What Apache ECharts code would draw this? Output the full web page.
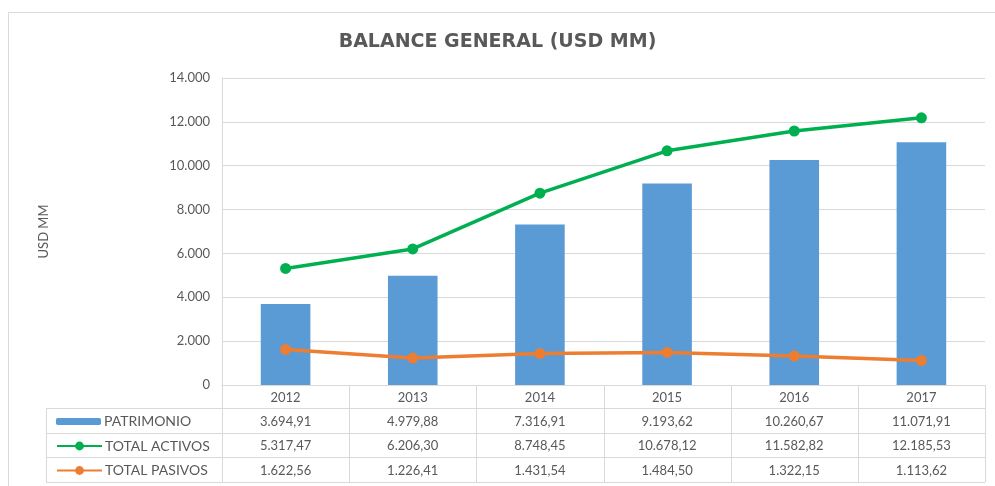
<!DOCTYPE html>
<html>
<head>
<meta charset="utf-8">
<script src="https://cdn.jsdelivr.net/npm/echarts/dist/echarts.min.js"></script>
<style>
html, body { margin: 0; padding: 0; background: #fff; }
#balanceChart { width: 995px; height: 486px; }
</style>
</head>
<body>
<div id="balanceChart"></div>
<script>
// datos (USD MM)
var years = ['2012', '2013', '2014', '2015', '2016', '2017']
var patrimonio = [3694.91, 4979.88, 7316.91, 9193.62, 10260.67, 11071.91]
var totalActivos = [5317.47, 6206.30, 8748.45, 10678.12, 11582.82, 12185.53]
var totalPasivos = [1622.56, 1226.41, 1431.54, 1484.50, 1322.15, 1113.62]
var seriesNames = ['PATRIMONIO', 'TOTAL ACTIVOS', 'TOTAL PASIVOS']

var textColor = '#595959'
var lineColor = '#D9D9D9'
var font = 'Lato'

// layout of plot + data table
var gridLeft = 222
var gridRight = 985
var gridTop = 78
var axisY = 385
var tableLeft = 46
var rowLines = [408, 433, 457, 482]

function fmtNum (v, dec) {
  var parts = v.toFixed(dec).split('.')
  var intPart = parts[0].replace(/\B(?=(\d{3})+(?!\d))/g, '.')
  return parts.length > 1 ? intPart + ',' + parts[1] : intPart
}

function buildTable () {
  var g = []
  var colW = (gridRight - gridLeft) / years.length
  var rows = [patrimonio, totalActivos, totalPasivos]
  // horizontal lines
  rowLines.forEach(function (y) {
    g.push({ type: 'line', silent: true, shape: { x1: tableLeft, y1: y + 0.5, x2: gridRight, y2: y + 0.5 }, style: { stroke: lineColor, lineWidth: 1 } })
  })
  // vertical lines
  g.push({ type: 'line', silent: true, shape: { x1: tableLeft + 0.5, y1: rowLines[0], x2: tableLeft + 0.5, y2: rowLines[3] }, style: { stroke: lineColor, lineWidth: 1 } })
  for (var k = 0; k <= years.length; k++) {
    var x = Math.round(gridLeft + k * colW) + 0.5
    g.push({ type: 'line', silent: true, shape: { x1: x, y1: axisY, x2: x, y2: rowLines[3] }, style: { stroke: lineColor, lineWidth: 1 } })
  }
  // values
  rows.forEach(function (data, r) {
    var cy = (rowLines[r] + rowLines[r + 1]) / 2 + 1
    data.forEach(function (v, i) {
      g.push({
        type: 'text',
        silent: true,
        x: gridLeft + (i + 0.5) * colW,
        y: cy,
        style: { text: fmtNum(v, 2), fill: textColor, font: '13px ' + font, align: 'center', verticalAlign: 'middle' }
      })
    })
  })
  // outer chart border
  g.push({ type: 'rect', silent: true, shape: { x: 8.5, y: 12.5, width: 1000, height: 500 }, style: { fill: 'none', stroke: lineColor, lineWidth: 1 } })
  return g
}

// one legend per table row, so each sits in its own row
function buildLegends () {
  return seriesNames.map(function (name, r) {
    var cy = (rowLines[r] + rowLines[r + 1]) / 2
    var h = r === 0 ? 7 : 11
    return {
      left: 51,
      top: cy - 12,
      height: 16,
      itemWidth: 45,
      itemHeight: h,
      data: [name],
      selectedMode: false,
      textStyle: { color: textColor, fontFamily: font, fontSize: 14, lineHeight: 16, padding: [0, 0, 0, -2] }
    }
  })
}

var option = {
  animation: false,
  backgroundColor: '#fff',
  color: ['#5B9BD5', '#00B050', '#ED7D31'],
  title: {
    text: 'BALANCE GENERAL (USD MM)',
    left: 'center',
    top: 28,
    textStyle: { color: textColor, fontFamily: 'DejaVu Sans', fontWeight: 'bold', fontSize: 19 }
  },
  legend: buildLegends(),
  grid: {
    left: gridLeft,
    right: 995 - gridRight,
    top: gridTop,
    bottom: 486 - axisY
  },
  xAxis: {
    type: 'category',
    data: years,
    axisLine: { lineStyle: { color: lineColor } },
    axisTick: { show: false },
    axisLabel: { color: textColor, fontFamily: font, fontSize: 13, margin: 6 }
  },
  yAxis: {
    type: 'value',
    name: 'USD MM',
    nameLocation: 'middle',
    nameGap: 172,
    nameTextStyle: { color: textColor, fontFamily: font, fontSize: 13 },
    min: 0,
    max: 14000,
    interval: 2000,
    axisLine: { show: true, lineStyle: { color: lineColor } },
    splitLine: { lineStyle: { color: lineColor } },
    axisLabel: {
      color: textColor,
      fontFamily: font,
      fontSize: 13,
      margin: 12,
      formatter: function (v) { return fmtNum(v, 0) }
    }
  },
  graphic: buildTable(),
  series: [
    {
      name: seriesNames[0],
      type: 'bar',
      data: patrimonio,
      barWidth: '39%'
    },
    {
      name: seriesNames[1],
      type: 'line',
      data: totalActivos,
      symbol: 'circle',
      symbolSize: 11,
      lineStyle: { width: 3.5 }
    },
    {
      name: seriesNames[2],
      type: 'line',
      data: totalPasivos,
      symbol: 'circle',
      symbolSize: 11,
      lineStyle: { width: 3.5 }
    }
  ]
}

var chart = echarts.init(document.getElementById('balanceChart'))
chart.setOption(option)
</script>
</body>
</html>
